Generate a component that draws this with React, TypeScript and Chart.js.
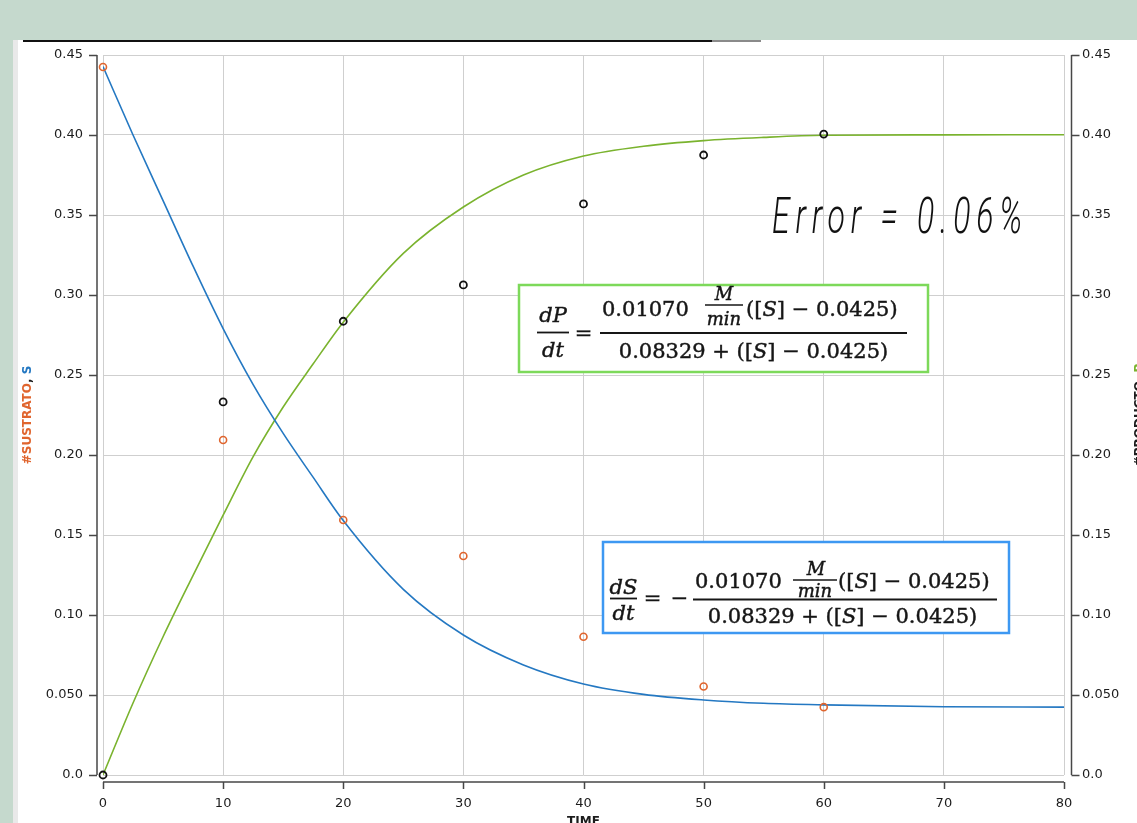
import React, { useEffect, useRef } from 'react';
import { Chart, registerables } from 'chart.js';

Chart.register(...registerables);

// ---- data ----
const tiempoObs = [0, 10, 20, 30, 40, 50, 60];
const sustratoObs = [0.4425, 0.2094, 0.1594, 0.1369, 0.0864, 0.0553, 0.0424];
const productoObs = [0.0, 0.2332, 0.2836, 0.3063, 0.3569, 0.3875, 0.4006];

const tiempoModelo = [0, 2.5, 5, 7.5, 10, 12.5, 15, 17.5, 20, 25, 30, 35, 40, 45, 50, 55, 60, 70, 80];
const sustratoModelo = [0.4428, 0.4, 0.359, 0.318, 0.279, 0.244, 0.2135, 0.186, 0.159, 0.116, 0.0875, 0.0688, 0.0569, 0.0504, 0.0469, 0.0448, 0.0438, 0.0427, 0.0424];
const productoModelo = [0, 0.045, 0.0864, 0.1248, 0.1624, 0.199, 0.23, 0.257, 0.283, 0.326, 0.355, 0.375, 0.3869, 0.393, 0.3965, 0.3985, 0.3998, 0.4001, 0.4002];

const xTickValues = [0, 10, 20, 30, 40, 50, 60, 70, 80];
const xTickLabels = ['0', '10', '20', '30', '40', '50', '60', '70', '80'];
const yTickValues = [0, 0.05, 0.1, 0.15, 0.2, 0.25, 0.3, 0.35, 0.4, 0.45];
const yTickLabels = ['0.0', '0.050', '0.10', '0.15', '0.20', '0.25', '0.30', '0.35', '0.40', '0.45'];

const xTitle = 'TIME';
const errorText = 'Error = 0.06%';

// ---- styles ----
const ORANGE = '#e0652e';
const BLUE = '#2478c2';
const GREEN = '#7ab32e';
const AXIS = '#474747';
const GRID = '#cfcfcf';
const TEXT = '#1c1c1c';
const MATH = '#161616';
const MF = '"DejaVu Serif"';
const SF = '"DejaVu Sans"';

type Run = { t: string; i?: boolean; c?: string };

function drawRuns(ctx: CanvasRenderingContext2D, runs: Run[], x: number, y: number, size: number, align: 'left' | 'center', prefix = '', family = MF, heavy = true) {
  const fonts = runs.map((r) => `${r.i ? 'italic ' : ''}${prefix}${size}px ${family}`);
  const widths = runs.map((r, k) => {
    ctx.font = fonts[k];
    return ctx.measureText(r.t).width;
  });
  const total = widths.reduce((a, b) => a + b, 0);
  let cx = align === 'center' ? x - total / 2 : x;
  ctx.textAlign = 'left';
  runs.forEach((r, k) => {
    ctx.font = fonts[k];
    ctx.fillStyle = r.c || MATH;
    ctx.fillText(r.t, cx, y);
    if (heavy) {
      ctx.strokeStyle = r.c || MATH;
      ctx.lineWidth = 0.45;
      ctx.strokeText(r.t, cx, y);
    }
    cx += widths[k];
  });
}

function hline(ctx: CanvasRenderingContext2D, x1: number, x2: number, y: number, w = 1.8, color = MATH) {
  ctx.beginPath();
  ctx.strokeStyle = color;
  ctx.lineWidth = w;
  ctx.moveTo(x1, y);
  ctx.lineTo(x2, y);
  ctx.stroke();
}

const sRuns = (pre: string, post: string): Run[] => [{ t: pre }, { t: 'S', i: true }, { t: post }];

const decorPlugin = {
  id: 'decor',
  afterDraw(chart: any) {
    const ctx: CanvasRenderingContext2D = chart.ctx;
    const { x, y } = chart.scales;
    const area = chart.chartArea;
    ctx.save();
    ctx.textBaseline = 'alphabetic';

    // ---- axes drawn offset from the plot area ----
    ctx.strokeStyle = AXIS;
    ctx.lineWidth = 1.5;
    const yTop = y.getPixelForValue(yTickValues[yTickValues.length - 1]);
    const yBot = y.getPixelForValue(yTickValues[0]);
    const lx = area.left - 6;
    const rx = area.right + 7.5;
    const by = area.bottom + 7;
    ctx.beginPath();
    ctx.moveTo(lx, yTop);
    ctx.lineTo(lx, yBot);
    ctx.moveTo(rx, yTop);
    ctx.lineTo(rx, yBot);
    yTickValues.forEach((v) => {
      const py = Math.round(y.getPixelForValue(v)) + 0.5;
      ctx.moveTo(lx - 8, py);
      ctx.lineTo(lx, py);
      ctx.moveTo(rx, py);
      ctx.lineTo(rx + 8, py);
    });
    const xL = x.getPixelForValue(xTickValues[0]);
    const xR = x.getPixelForValue(xTickValues[xTickValues.length - 1]);
    ctx.moveTo(xL, by);
    ctx.lineTo(xR, by);
    xTickValues.forEach((v) => {
      const px = Math.round(x.getPixelForValue(v)) + 0.5;
      ctx.moveTo(px, by);
      ctx.lineTo(px, by + 7);
    });
    ctx.stroke();

    // ---- axis titles ----
    ctx.font = `bold 12px ${SF}`;
    ctx.fillStyle = TEXT;
    ctx.textAlign = 'center';
    ctx.textBaseline = 'top';
    ctx.fillText(xTitle, (area.left + area.right) / 2, 816);

    ctx.textBaseline = 'middle';
    ctx.save();
    ctx.translate(28, 415);
    ctx.rotate(-Math.PI / 2);
    drawRuns(ctx, [{ t: '#SUSTRATO', c: ORANGE }, { t: ', ', c: TEXT }, { t: 'S', c: BLUE }], 0, 0, 12, 'center', 'bold ', SF, false);
    ctx.restore();
    ctx.save();
    ctx.translate(1140, 415);
    ctx.rotate(-Math.PI / 2);
    drawRuns(ctx, [{ t: '#PRODUCTO', c: TEXT }, { t: ', ', c: TEXT }, { t: 'P', c: GREEN }], 0, 0, 12, 'center', 'bold ', SF, false);
    ctx.restore();
    ctx.textBaseline = 'alphabetic';

    // ---- Error text ----
    ctx.save();
    ctx.font = 'italic 300 50px Roboto';
    const w0 = ctx.measureText(errorText).width;
    const sx = 0.64;
    const ls = Math.max(0, (256 / sx - w0) / errorText.length);
    (ctx as any).letterSpacing = `${ls}px`;
    ctx.translate(772, 233);
    ctx.scale(sx, 1);
    ctx.fillStyle = '#111';
    ctx.textAlign = 'left';
    ctx.fillText(errorText, 0, 0);
    ctx.restore();

    // ---- dP/dt box ----
    ctx.fillStyle = '#fff';
    ctx.fillRect(519, 285, 409, 87);
    ctx.strokeStyle = '#7dd95a';
    ctx.lineWidth = 2.5;
    ctx.strokeRect(519, 285, 409, 87);
    drawRuns(ctx, [{ t: 'dP', i: true }], 553, 322, 21, 'center');
    hline(ctx, 537, 569, 332.5);
    drawRuns(ctx, [{ t: 'dt', i: true }], 553, 357, 21, 'center');
    drawRuns(ctx, [{ t: '=' }], 583.5, 340, 21, 'center');
    drawRuns(ctx, [{ t: '0.01070' }], 602, 316, 21, 'left');
    drawRuns(ctx, [{ t: 'M', i: true }], 724, 300, 18, 'center');
    hline(ctx, 705, 743, 305, 1.4);
    drawRuns(ctx, [{ t: 'min', i: true }], 724, 325, 18, 'center');
    drawRuns(ctx, sRuns('([', '] − 0.0425)'), 746, 316, 21, 'left');
    hline(ctx, 600, 907, 333);
    drawRuns(ctx, sRuns('0.08329 + ([', '] − 0.0425)'), 753.5, 358, 21, 'center');

    // ---- dS/dt box ----
    ctx.fillStyle = '#fff';
    ctx.fillRect(603, 542, 406, 91);
    ctx.strokeStyle = '#3d98f2';
    ctx.lineWidth = 2.5;
    ctx.strokeRect(603, 542, 406, 91);
    drawRuns(ctx, [{ t: 'dS', i: true }], 623.5, 594, 21, 'center');
    hline(ctx, 610, 637, 598.5);
    drawRuns(ctx, [{ t: 'dt', i: true }], 623.5, 620, 21, 'center');
    drawRuns(ctx, [{ t: '=' }], 652.5, 605, 21, 'center');
    drawRuns(ctx, [{ t: '−' }], 679.5, 605, 21, 'center');
    drawRuns(ctx, [{ t: '0.01070' }], 695, 588, 21, 'left');
    drawRuns(ctx, [{ t: 'M', i: true }], 816, 575, 18, 'center');
    hline(ctx, 793, 837, 580, 1.4);
    drawRuns(ctx, [{ t: 'min', i: true }], 815, 597, 18, 'center');
    drawRuns(ctx, sRuns('([', '] − 0.0425)'), 838, 588, 21, 'left');
    hline(ctx, 693, 997, 599.5);
    drawRuns(ctx, sRuns('0.08329 + ([', '] − 0.0425)'), 842.5, 623, 21, 'center');

    ctx.restore();
  },
};

const tickFont = { family: 'DejaVu Sans', size: 13 };

export default function App() {
  const ref = useRef<HTMLCanvasElement | null>(null);

  useEffect(() => {
    if (!ref.current) return;
    const chart = new Chart(ref.current, {
      type: 'scatter',
      data: {
        datasets: [
          {
            label: 'Sustrato (datos)',
            data: tiempoObs.map((t, i) => ({ x: t, y: sustratoObs[i] })),
            showLine: false,
            pointRadius: 3.5,
            pointBorderWidth: 1.6,
            pointBorderColor: ORANGE,
            pointBackgroundColor: 'rgba(0,0,0,0)',
            clip: false,
            order: 0,
          },
          {
            label: 'Producto (datos)',
            data: tiempoObs.map((t, i) => ({ x: t, y: productoObs[i] })),
            showLine: false,
            pointRadius: 3.5,
            pointBorderWidth: 1.8,
            pointBorderColor: '#111',
            pointBackgroundColor: 'rgba(0,0,0,0)',
            clip: false,
            order: 0,
          },
          {
            label: 'Sustrato (modelo)',
            data: tiempoModelo.map((t, i) => ({ x: t, y: sustratoModelo[i] })),
            showLine: true,
            borderColor: BLUE,
            borderWidth: 1.6,
            pointRadius: 0,
            cubicInterpolationMode: 'monotone',
            order: 1,
          },
          {
            label: 'Producto (modelo)',
            data: tiempoModelo.map((t, i) => ({ x: t, y: productoModelo[i] })),
            showLine: true,
            borderColor: GREEN,
            borderWidth: 1.6,
            pointRadius: 0,
            cubicInterpolationMode: 'monotone',
            order: 1,
          },
        ],
      },
      options: {
        responsive: false,
        animation: false,
        devicePixelRatio: 1,
        layout: { padding: { top: 55, left: 0, right: 0, bottom: 0 } },
        plugins: { legend: { display: false }, tooltip: { enabled: false } },
        scales: {
          x: {
            type: 'linear',
            position: 'bottom',
            min: 0,
            max: 80,
            afterBuildTicks: (s: any) => {
              s.ticks = xTickValues.map((v) => ({ value: v }));
            },
            afterFit: (s: any) => {
              s.height = 48;
            },
            grid: { color: GRID, lineWidth: 1, drawTicks: false },
            border: { display: false },
            ticks: {
              autoSkip: false,
              maxRotation: 0,
              padding: 21,
              color: TEXT,
              font: tickFont,
              callback: (v: any) => xTickLabels[xTickValues.indexOf(Number(v))] ?? '',
            },
          },
          y: {
            type: 'linear',
            position: 'left',
            min: 0,
            max: 0.45,
            afterBuildTicks: (s: any) => {
              s.ticks = yTickValues.map((v) => ({ value: v }));
            },
            afterFit: (s: any) => {
              s.width = 103;
            },
            grid: { color: GRID, lineWidth: 1, drawTicks: false },
            border: { display: false },
            ticks: {
              autoSkip: false,
              padding: 20,
              color: TEXT,
              font: tickFont,
              callback: (v: any) => yTickLabels[yTickValues.findIndex((t) => Math.abs(t - Number(v)) < 1e-9)] ?? '',
            },
          },
          y2: {
            type: 'linear',
            position: 'right',
            min: 0,
            max: 0.45,
            afterBuildTicks: (s: any) => {
              s.ticks = yTickValues.map((v) => ({ value: v }));
            },
            afterFit: (s: any) => {
              s.width = 73;
            },
            grid: { drawOnChartArea: false, drawTicks: false },
            border: { display: false },
            ticks: {
              autoSkip: false,
              padding: 18,
              color: TEXT,
              font: tickFont,
              callback: (v: any) => yTickLabels[yTickValues.findIndex((t) => Math.abs(t - Number(v)) < 1e-9)] ?? '',
            },
          },
        },
      } as any,
      plugins: [decorPlugin],
    });
    return () => chart.destroy();
  }, []);

  return (
    <div style={{ position: 'fixed', left: 0, top: 0, width: 1137, height: 823, background: '#ffffff', overflow: 'hidden' }}>
      <div style={{ position: 'absolute', left: 0, top: 0, width: 1137, height: 40, background: '#c5d9cd' }} />
      <div style={{ position: 'absolute', left: 0, top: 40, width: 13, height: 783, background: '#c5d9cd' }} />
      <div style={{ position: 'absolute', left: 13, top: 40, width: 5, height: 783, background: '#e9e9e9' }} />
      <div style={{ position: 'absolute', left: 23, top: 40, width: 689, height: 1.5, background: '#111' }} />
      <div style={{ position: 'absolute', left: 712, top: 40, width: 49, height: 1.5, background: '#8a8a8a' }} />
      <canvas ref={ref} width={1137} height={823} style={{ position: 'absolute', left: 0, top: 0, width: 1137, height: 823 }} />
    </div>
  );
}
